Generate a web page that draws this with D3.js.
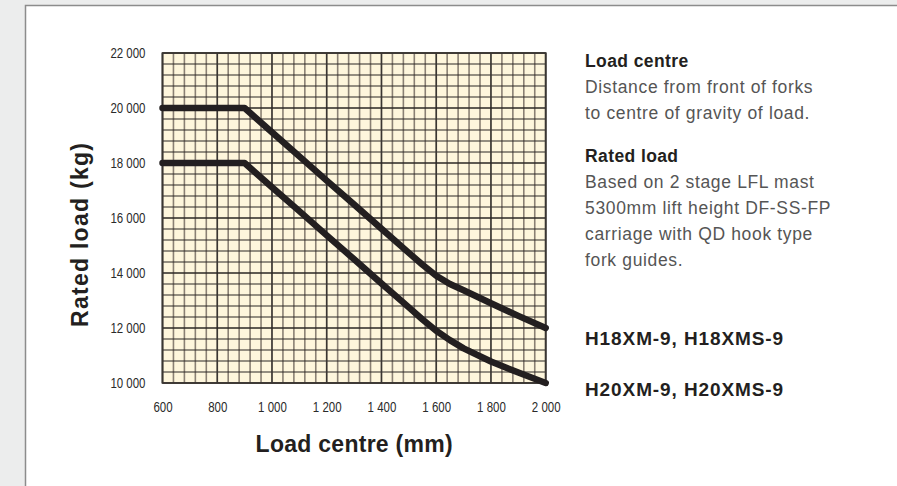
<!DOCTYPE html>
<html lang="en">
<head>
    <meta charset="UTF-8">
    <title>Load chart</title>
    <style>
        body {
            margin: 0;
            padding: 0;
            overflow: hidden;
            background-color: #eceded;
            font-family: "Liberation Sans", Arial, sans-serif;
        }

        .tick text {
            font-family: "Liberation Sans", Arial, sans-serif;
            font-size: 14px;
            fill: #2a2a2a;
        }

        .axis-title {
            font-size: 23px;
            font-weight: bold;
            fill: #231f20;
        }

        .head {
            font-size: 17.5px;
            font-weight: bold;
            letter-spacing: 0.4px;
            fill: #231f20;
        }

        .body-text {
            font-size: 17.5px;
            letter-spacing: 0.65px;
            fill: #555;
        }

        .model {
            font-size: 19px;
            font-weight: bold;
            letter-spacing: 0.9px;
            fill: #231f20;
        }
    </style>
    <script src="https://d3js.org/d3.v7.min.js"></script>
</head>
<body>
    <div id="chart"></div>

    <script>
        // load centre (mm) and rated load (kg)
        const loadCentre = [600, 900, 1000, 1100, 1200, 1300, 1400, 1500, 1550, 1600, 1650, 1700, 1800, 1900, 2000];
        const upperLoad  = [20000, 20000, 19120, 18240, 17360, 16490, 15610, 14730, 14300, 13900, 13600, 13370, 12900, 12440, 12000];
        const lowerLoad  = [18000, 18000, 17120, 16250, 15370, 14500, 13620, 12750, 12310, 11900, 11560, 11260, 10780, 10380, 10000];

        const xTicks = [600, 800, 1000, 1200, 1400, 1600, 1800, 2000];
        const yTicks = [10000, 12000, 14000, 16000, 18000, 20000, 22000];

        const notes = [
            { cls: 'head', text: 'Load centre', y: 67 },
            { cls: 'body-text', text: 'Distance from front of forks', y: 93 },
            { cls: 'body-text', text: 'to centre of gravity of load.', y: 119 },
            { cls: 'head', text: 'Rated load', y: 162 },
            { cls: 'body-text', text: 'Based on 2 stage LFL mast', y: 188 },
            { cls: 'body-text', text: '5300mm lift height DF-SS-FP', y: 214 },
            { cls: 'body-text', text: 'carriage with QD hook type', y: 240 },
            { cls: 'body-text', text: 'fork guides.', y: 266 },
            { cls: 'model', text: 'H18XM-9, H18XMS-9', y: 345 },
            { cls: 'model', text: 'H20XM-9, H20XMS-9', y: 396 }
        ];

        const width = 897, height = 486;

        const svg = d3.select('#chart')
            .append('svg')
            .attr('width', width)
            .attr('height', height);

        // white panel
        svg.append('rect')
            .attr('x', 25.5)
            .attr('y', 5.5)
            .attr('width', width)
            .attr('height', height)
            .attr('fill', '#fff')
            .attr('stroke', '#8c8c8c')
            .attr('stroke-width', 1.5);

        const x = d3.scaleLinear().domain([600, 2000]).range([162.5, 545.7]);
        const y = d3.scaleLinear().domain([10000, 22000]).range([383, 53]);

        const g = svg.append('g');

        // graph paper
        g.append('rect')
            .attr('x', x(600))
            .attr('y', y(22000))
            .attr('width', x(2000) - x(600))
            .attr('height', y(10000) - y(22000))
            .attr('fill', '#fef6dc');

        const minorX = d3.range(600, 2001, 40).filter(d => d % 200 !== 0);
        const minorY = d3.range(10000, 22001, 400).filter(d => d % 2000 !== 0);

        g.selectAll('.vminor')
            .data(minorX)
            .enter().append('line')
            .attr('x1', d => x(d)).attr('x2', d => x(d))
            .attr('y1', y(22000)).attr('y2', y(10000))
            .attr('stroke', '#8a8074')
            .attr('stroke-width', 1.6);

        g.selectAll('.hminor')
            .data(minorY)
            .enter().append('line')
            .attr('x1', x(600)).attr('x2', x(2000))
            .attr('y1', d => y(d)).attr('y2', d => y(d))
            .attr('stroke', '#2b2724')
            .attr('stroke-width', 1.1);

        g.selectAll('.vmajor')
            .data(xTicks)
            .enter().append('line')
            .attr('x1', d => x(d)).attr('x2', d => x(d))
            .attr('y1', y(22000)).attr('y2', y(10000))
            .attr('stroke', '#3a3632')
            .attr('stroke-width', 1.7);

        g.selectAll('.hmajor')
            .data(yTicks)
            .enter().append('line')
            .attr('x1', x(600)).attr('x2', x(2000))
            .attr('y1', d => y(d)).attr('y2', d => y(d))
            .attr('stroke', '#2b2724')
            .attr('stroke-width', 1.7);

        // frame
        g.append('rect')
            .attr('x', x(600))
            .attr('y', y(22000))
            .attr('width', x(2000) - x(600))
            .attr('height', y(10000) - y(22000))
            .attr('fill', 'none')
            .attr('stroke', '#3a3632')
            .attr('stroke-width', 1.7);

        // tick labels, "22 000" style
        const fmt = d => d3.format(',')(d).replace(',', ' ');

        const yAxis = svg.append('g')
            .attr('transform', `translate(${x(600)},0)`)
            .call(d3.axisLeft(y).tickValues(yTicks).tickSize(0).tickPadding(17).tickFormat(fmt));
        yAxis.select('.domain').remove();

        const xAxis = svg.append('g')
            .attr('transform', `translate(0,${y(10000)})`)
            .call(d3.axisBottom(x).tickValues(xTicks).tickSize(0).tickPadding(19).tickFormat(fmt));
        xAxis.select('.domain').remove();

        // condensed look: squeeze the labels a little
        svg.selectAll('.tick text').each(function () {
            const w = this.getComputedTextLength();
            d3.select(this)
                .attr('textLength', w * 0.82)
                .attr('lengthAdjust', 'spacingAndGlyphs');
        });

        // curves
        const line = d3.line()
            .x(d => x(d[0]))
            .y(d => y(d[1]));

        [upperLoad, lowerLoad].forEach(series => {
            svg.append('path')
                .datum(loadCentre.map((c, i) => [c, series[i]]))
                .attr('d', line)
                .attr('fill', 'none')
                .attr('stroke', '#231f20')
                .attr('stroke-width', 6.5)
                .attr('stroke-linecap', 'round')
                .attr('stroke-linejoin', 'round');
        });

        // axis titles
        svg.append('text')
            .attr('class', 'axis-title')
            .attr('x', (x(600) + x(2000)) / 2)
            .attr('y', 452)
            .attr('text-anchor', 'middle')
            .attr('textLength', 197)
            .text('Load centre (mm)');

        svg.append('text')
            .attr('class', 'axis-title')
            .attr('transform', 'translate(88,235) rotate(-90)')
            .attr('text-anchor', 'middle')
            .attr('textLength', 184)
            .text('Rated load (kg)');

        // notes on the right
        svg.selectAll('.note')
            .data(notes)
            .enter().append('text')
            .attr('class', d => d.cls)
            .attr('x', 585)
            .attr('y', d => d.y)
            .text(d => d.text);
    </script>
</body>
</html>
